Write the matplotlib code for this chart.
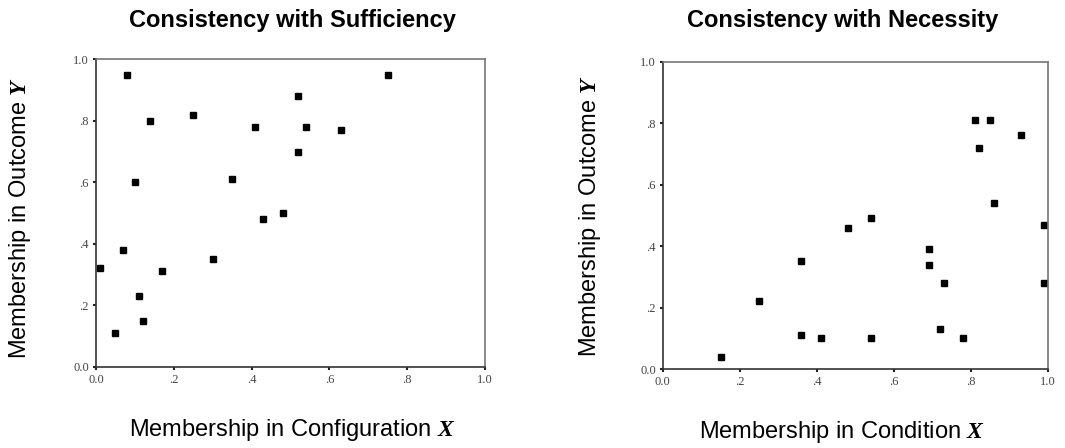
import matplotlib
matplotlib.use("Agg")
import matplotlib.pyplot as plt

plt.rcParams["mathtext.fontset"] = "custom"
plt.rcParams["mathtext.bfit"] = "Liberation Serif:italic:bold"
plt.rcParams["mathtext.rm"] = "Liberation Sans"

# Sufficiency panel: configuration X vs outcome Y
suff_x = [0.01, 0.08, 0.14, 0.25, 0.10, 0.07, 0.05, 0.11, 0.12, 0.17,
          0.30, 0.35, 0.41, 0.43, 0.48, 0.52, 0.52, 0.54, 0.63, 0.75]
suff_y = [0.32, 0.95, 0.80, 0.82, 0.60, 0.38, 0.11, 0.23, 0.15, 0.31,
          0.35, 0.61, 0.78, 0.48, 0.50, 0.88, 0.70, 0.78, 0.77, 0.95]

# Necessity panel: condition X vs outcome Y
nec_x = [0.15, 0.25, 0.36, 0.36, 0.41, 0.48, 0.54, 0.54, 0.69, 0.69,
         0.73, 0.72, 0.78, 0.81, 0.85, 0.82, 0.93, 0.86, 0.99, 0.99]
nec_y = [0.04, 0.22, 0.35, 0.11, 0.10, 0.46, 0.49, 0.10, 0.39, 0.34,
         0.28, 0.13, 0.10, 0.81, 0.81, 0.72, 0.76, 0.54, 0.47, 0.28]

ticks = [0.0, 0.2, 0.4, 0.6, 0.8, 1.0]
tick_labels = ["0.0", ".2", ".4", ".6", ".8", "1.0"]

fig = plt.figure(figsize=(10.65, 4.48), dpi=100)
ax1 = fig.add_axes([0.0901, 0.1815, 0.3653, 0.686])
ax2 = fig.add_axes([0.6223, 0.1763, 0.3618, 0.686])


def style(ax, xs, ys):
    ax.plot(xs, ys, "s", color="black", markersize=4.2, linestyle="none",
            clip_on=False)
    ax.set_xlim(0, 1)
    ax.set_ylim(0, 1)
    ax.set_xticks(ticks)
    ax.set_yticks(ticks)
    ax.set_xticklabels(tick_labels)
    ax.set_yticklabels(tick_labels)
    for lab in ax.get_xticklabels() + ax.get_yticklabels():
        lab.set_fontfamily("Liberation Serif")
        lab.set_fontsize(9)
        lab.set_color("#444444")
    ax.tick_params(length=2, width=1.5, color="#222222", pad=3)
    ax.spines["left"].set_color("#333333")
    ax.spines["bottom"].set_color("#333333")
    ax.spines["top"].set_color("#777777")
    ax.spines["right"].set_color("#777777")
    for s in ax.spines.values():
        s.set_linewidth(1.2)


style(ax1, suff_x, suff_y)
style(ax2, nec_x, nec_y)

title_kw = dict(fontsize=17, fontweight="bold", family="Liberation Sans",
                ha="center", va="center")
fig.text(292.5 / 1065, 1 - 20 / 448, "Consistency with Sufficiency", **title_kw)
fig.text(843 / 1065, 1 - 20 / 448, "Consistency with Necessity", **title_kw)

label_kw = dict(fontsize=17, family="Liberation Sans", ha="center", va="center")
fig.text(292.5 / 1065, 1 - 430 / 448,
         r"Membership in Configuration $\mathbfit{X}$", **label_kw)
fig.text(842 / 1065, 1 - 432 / 448,
         r"Membership in Condition $\mathbfit{X}$", **label_kw)
fig.text(20 / 1065, 1 - 218 / 448,
         r"Membership in Outcome $\mathbfit{Y}$", rotation=90, **label_kw)
fig.text(590 / 1065, 1 - 216 / 448,
         r"Membership in Outcome $\mathbfit{Y}$", rotation=90, **label_kw)

fig.savefig("out.png", dpi=100)
